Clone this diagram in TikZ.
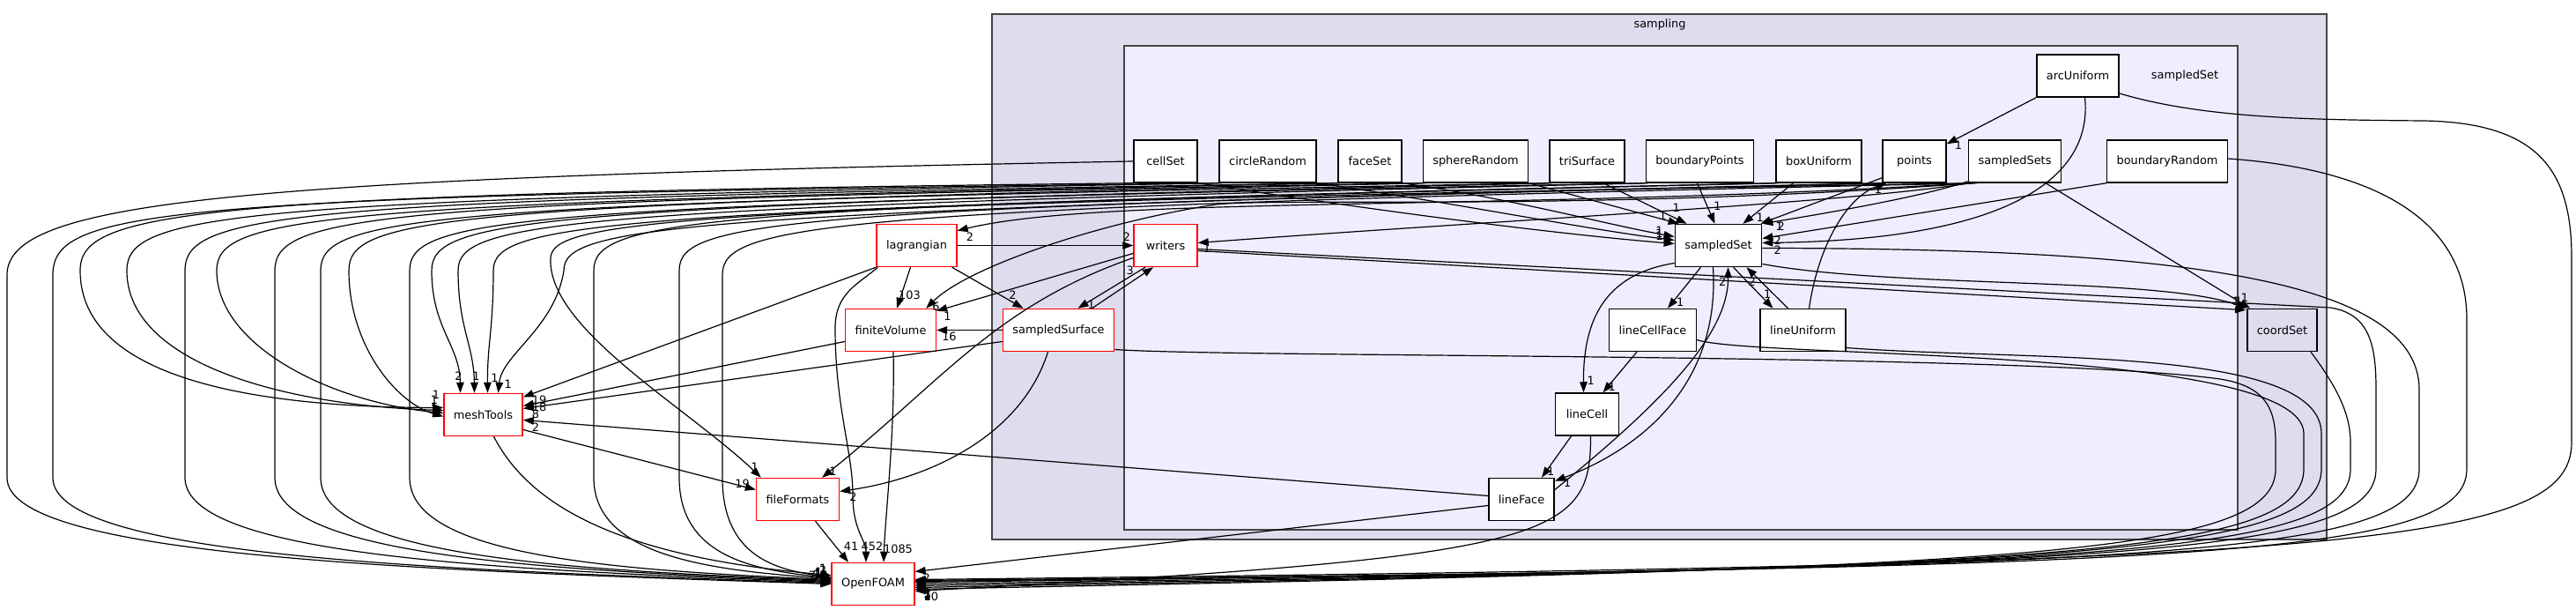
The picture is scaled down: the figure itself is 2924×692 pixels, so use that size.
\documentclass[tikz,border=0pt]{standalone}
\usepackage{fontspec}
\setmainfont{DejaVu Sans}
\usetikzlibrary{arrows.meta}
\definecolor{samplingfill}{HTML}{DDDDEE}
\definecolor{setfill}{HTML}{EEEEFF}
\definecolor{clusterline}{HTML}{444444}
\tikzset{
    % Directory boxes
    dirbox/.style={draw=black,fill=white,line width=1.5pt,minimum width=72pt,minimum height=48pt,inner xsep=11pt,inner ysep=0pt},
    extdir/.style={dirbox,draw=red},
    subdir/.style={dirbox,fill=samplingfill},
    %
    % Clusters
    cluster/.style={draw=clusterline,line width=1.5pt},
    %
    % Dependencies
    dep tip/.tip={Triangle[length=12pt,width=8.5pt]},
    dep/.style={line width=1.2pt,-{dep tip}},
    num/.style={inner sep=0.5pt}
}

\begin{document}
\begin{tikzpicture}[x=1pt,y=1pt,font=\fontsize{12.9}{15}\selectfont]
    \useasboundingbox (0,0) rectangle (2924,692);
    \fill[white] (0,0) rectangle (2924,692);
    % clusters
    \draw[cluster,fill=samplingfill] (1126,80) rectangle (2641,676);
    \draw[cluster,fill=setfill] (1276,91) rectangle (2540,640);
    \node (samplingTitle) at (1884,664) {sampling};
    \node (setTitle) at (2480,606) {sampledSet};
    % sampledSet subdirectories
    \node[dirbox] (cellSet) at (1323,509) {cellSet};
    \node[dirbox] (circleRandom) at (1439,509) {circleRandom};
    \node[dirbox] (faceSet) at (1555,509) {faceSet};
    \node[dirbox] (sphereRandom) at (1675,509) {sphereRandom};
    \node[dirbox] (triSurface) at (1801.5,509) {triSurface};
    \node[dirbox] (boundaryPoints) at (1929.5,509) {boundaryPoints};
    \node[dirbox] (boxUniform) at (2064.5,509) {boxUniform};
    \node[dirbox] (points) at (2173,509) {points};
    \node[dirbox] (sampledSets) at (2287,509) {sampledSets};
    \node[dirbox] (boundaryRandom) at (2460,509) {boundaryRandom};
    \node[dirbox] (arcUniform) at (2358.5,606) {arcUniform};
    \node[extdir] (writers) at (1323,413.5) {writers};
    \node[dirbox] (sampledSet) at (1950.5,413.5) {sampledSet};
    \node[dirbox] (lineCellFace) at (1876,317.5) {lineCellFace};
    \node[dirbox] (lineUniform) at (2046.5,317.5) {lineUniform};
    \node[dirbox] (lineCell) at (1801.5,222) {lineCell};
    \node[dirbox] (lineFace) at (1727,125.5) {lineFace};
    % rest of sampling
    \node[extdir] (sampledSurface) at (1201.5,317.5) {sampledSurface};
    \node[subdir] (coordSet) at (2590.5,317.5) {coordSet};
    % outside directories
    \node[extdir] (lagrangian) at (1040.5,413.5) {lagrangian};
    \node[extdir] (finiteVolume) at (1011,317.5) {finiteVolume};
    \node[extdir] (meshTools) at (548.5,221.5) {meshTools};
    \node[extdir] (fileFormats) at (905.5,125.5) {fileFormats};
    \node[extdir] (OpenFOAM) at (991,29.5) {OpenFOAM};

    % top row into sampledSet
    \draw[dep] (cellSet.south east) .. controls (1550,455) and (1750,428) .. ([yshift=2pt]sampledSet.west) node[num,at end,anchor=east,xshift=-12pt,yshift=9pt]{1};
    \draw[dep] (circleRandom.south east) .. controls (1650,462) and (1800,432) .. ([yshift=6pt]sampledSet.west) node[num,at end,anchor=east,xshift=-12pt,yshift=8pt]{1};
    \draw[dep] (faceSet.south east) .. controls (1720,466) and (1820,438) .. ([yshift=10pt]sampledSet.west) node[num,at end,anchor=east,xshift=-12pt,yshift=7pt]{1};
    \draw[dep] (sphereRandom.south east) -- ([xshift=5pt]sampledSet.north west) node[num,at end,anchor=east,xshift=-13pt,yshift=9pt]{1};
    \draw[dep] ([xshift=-25pt]triSurface.south east) -- ([xshift=14pt]sampledSet.north west) node[num,at end,anchor=south,xshift=-12pt,yshift=12pt]{1};
    \draw[dep] ([xshift=-3pt]boundaryPoints.south) -- ([xshift=-4pt]sampledSet.north) node[num,at end,anchor=south,xshift=3pt,yshift=14pt]{1};
    \draw[dep] ([xshift=20pt]boxUniform.south west) -- ([xshift=-22pt]sampledSet.north east) node[num,at end,anchor=west,xshift=14pt,yshift=7pt]{1};
    \draw[dep] ([yshift=6pt]points.south west) -- ([xshift=-2pt]sampledSet.north east) node[num,at end,anchor=west,xshift=16pt,yshift=-3pt]{1};
    \draw[dep] ([yshift=2pt]sampledSets.south west) .. controls (2180,468) and (2060,448) .. (sampledSet.north east) node[num,at end,anchor=west,xshift=16pt,yshift=-3pt]{2};
    \draw[dep] (boundaryRandom.south west) -- ([yshift=8pt]sampledSet.east) node[num,at end,anchor=west,xshift=12pt,yshift=-2pt]{2};
    \draw[dep] ([xshift=8pt]arcUniform.south) .. controls (2375,500) and (2300,420) .. ([yshift=3pt]sampledSet.east) node[num,at end,anchor=west,xshift=12pt,yshift=-8pt]{2};

    % lower part of sampledSet
    \draw[dep] ([xshift=-20pt]sampledSet.south) -- ([xshift=17pt]lineCellFace.north) node[num,at end,anchor=south west,xshift=9pt,yshift=1pt]{1};
    \draw[dep] ([xshift=17pt]sampledSet.south) -- ([xshift=-34pt]lineUniform.north) node[num,at end,anchor=south east,xshift=-1pt,yshift=10pt]{1};
    \draw[dep] ([xshift=-17pt]lineUniform.north) -- ([xshift=32pt]sampledSet.south) node[num,at end,anchor=north west,xshift=1pt,yshift=-11pt]{2};
    \draw[dep] ([yshift=11pt]lineFace.east) .. controls (1880,230) and (1962,310) .. ([xshift=11pt]sampledSet.south) node[num,at end,anchor=north east,xshift=-1pt,yshift=-11pt]{2};
    \draw[dep] ([xshift=-6pt]sampledSet.south) .. controls (1952,270) and (1880,190) .. ([yshift=-4pt]lineFace.north east) node[num,at end,anchor=west,xshift=9pt,yshift=-2pt]{1};
    \draw[dep] ([yshift=-20pt]sampledSet.west) .. controls (1815,380) and (1797,320) .. ([xshift=-4pt]lineCell.north) node[num,at end,anchor=south west,xshift=3pt,yshift=8pt]{1};
    \draw[dep] ([xshift=-18pt]lineCellFace.south) -- ([xshift=18pt]lineCell.north) node[num,at end,anchor=south west,xshift=5pt,yshift=1pt]{1};
    \draw[dep] ([xshift=-18pt]lineCell.south) -- ([xshift=23pt]lineFace.north) node[num,at end,anchor=south west,xshift=5pt,yshift=1pt]{1};
    \draw[dep] ([xshift=7pt]lineUniform.north) .. controls (2065,420) and (2100,470) .. ([xshift=5pt]points.south west) node[num,at end,anchor=north east,xshift=-4pt,yshift=-1pt]{1};
    \draw[dep] (arcUniform.south west) -- ([yshift=-5pt]points.north east) node[num,at end,anchor=west,xshift=8pt,yshift=-2pt]{1};

    % into coordSet
    \draw[dep] ([xshift=35pt]sampledSets.south) -- ([xshift=4pt]coordSet.north west) node[num,at end,anchor=south east,xshift=-1pt,yshift=6pt]{1};
    \draw[dep] ([yshift=-21pt]sampledSet.east) .. controls (2150,365) and (2450,378) .. (coordSet.north west) node[num,at end,anchor=south east,xshift=-4pt,yshift=2pt]{1};
    \draw[dep] ([yshift=-6pt]writers.east) -- ([xshift=-1pt,yshift=-2pt]coordSet.north west) node[num,at end,anchor=south east,xshift=-6pt,yshift=4pt]{1};

    % writers, sampledSurface and lagrangian
    \draw[dep] (lagrangian.east) -- (writers.west) node[num,at end,anchor=south east,xshift=-2pt,yshift=4pt]{2};
    \draw[dep] ([xshift=-6pt]lagrangian.south east) -- ([xshift=-40pt]sampledSurface.north) node[num,at end,anchor=south,xshift=-12pt,yshift=9pt]{2};
    \draw[dep] ([xshift=-7pt]lagrangian.south) -- ([xshift=7pt]finiteVolume.north) node[num,at end,anchor=south west,xshift=1pt,yshift=9pt]{103};
    \draw[dep] (lagrangian.south west) -- ([yshift=20pt]meshTools.east) node[num,at end,anchor=west,xshift=9pt,yshift=-3pt]{19};
    \draw[dep] ([xshift=2pt]lagrangian.south west) .. controls (975,370) and (948,360) .. (948,320) .. controls (948,230) and (968,180) .. (968,130) .. controls (968,90) and (983,80) .. ([xshift=-8pt]OpenFOAM.north) node[num,at end,anchor=south,xshift=7pt,yshift=12pt]{452};
    \draw[dep] ([xshift=-23pt]writers.south) -- ([xshift=22pt]sampledSurface.north) node[num,at end,anchor=south west,xshift=10pt,yshift=-2pt]{1};
    \draw[dep] ([xshift=38pt]sampledSurface.north) -- ([xshift=-14pt]writers.south) node[num,at end,anchor=east,xshift=-21pt,yshift=-4pt]{3};
    \draw[dep] ([yshift=-9pt]writers.west) -- ([yshift=-3pt]finiteVolume.north east) node[num,at end,anchor=north west,xshift=7pt]{1};
    \draw[dep] ([yshift=-14pt]writers.west) .. controls (1130,345) and (1070,260) .. ([xshift=-20pt]fileFormats.north east) node[num,at end,anchor=south west,xshift=7pt,yshift=1pt]{1};
    \draw[dep] (sampledSurface.west) -- (finiteVolume.east) node[num,at end,anchor=north west,xshift=5pt,yshift=-1pt]{16};
    \draw[dep] ([yshift=-13pt]sampledSurface.west) -- ([yshift=7pt]meshTools.east) node[num,at end,anchor=west,xshift=9pt,yshift=-6pt]{8};
    \draw[dep] ([xshift=-12pt]sampledSurface.south) .. controls (1160,200) and (1060,150) .. ([yshift=9pt]fileFormats.east) node[num,at end,anchor=north west,xshift=10pt]{2};
    \draw[dep] ([yshift=-13pt]finiteVolume.west) -- ([yshift=10pt]meshTools.east) node[num,at end,anchor=west,xshift=9pt,yshift=-1pt]{18};
    \draw[dep] ([xshift=3pt]finiteVolume.south) .. controls (1016,200) and (1005,110) .. ([xshift=12pt]OpenFOAM.north) node[num,at end,anchor=south west,xshift=-1pt,yshift=9pt]{1085};
    \draw[dep] ([yshift=-17pt]meshTools.east) -- ([yshift=11pt]fileFormats.west) node[num,at end,anchor=south east,xshift=-6pt,yshift=1pt]{19};
    \draw[dep] ([xshift=12pt]meshTools.south) .. controls (600,120) and (700,60) .. ([yshift=10pt]OpenFOAM.west) node[num,at end,anchor=south east,xshift=-4pt,yshift=2pt]{1};
    \draw[dep] ([xshift=20pt]fileFormats.south) -- ([xshift=-28pt]OpenFOAM.north) node[num,at end,anchor=south,xshift=3pt,yshift=12pt]{41};
    \draw[dep] ([yshift=4pt]lineFace.west) -- ([yshift=-6pt]meshTools.east) node[num,at end,anchor=north west,xshift=9pt,yshift=-2pt]{2};

    % sampledSets towards the left
    \draw[dep] ([xshift=2pt]sampledSets.south west) .. controls (2100,462) and (1700,442) .. ([yshift=3pt]writers.east) node[num,at end,anchor=north west,xshift=5pt,yshift=-1pt]{1};
    \draw[dep] ([xshift=4pt]sampledSets.south west) .. controls (1700,452) and (1250,470) .. ([yshift=-8pt]lagrangian.north east) node[num,at end,anchor=north west,xshift=9pt,yshift=-1pt]{2};
    \draw[dep] ([xshift=6pt]sampledSets.south west) .. controls (1800,452) and (1450,468) .. (1380,460) .. controls (1250,440) and (1100,390) .. ([xshift=-12pt]finiteVolume.north east) node[num,at end,anchor=south west,xshift=6pt,yshift=-4pt]{6};
    \draw[dep] ([xshift=8pt]sampledSets.south west) .. controls (740,460) and (630,440) .. (625,400) .. controls (620,320) and (780,230) .. ([xshift=6pt]fileFormats.north west) node[num,at end,anchor=south east,xshift=-2pt,yshift=6pt]{1};
    \draw[dep] ([xshift=10pt]sampledSets.south west) .. controls (930,456) and (820,438) .. (820,380) -- (820,150) .. controls (820,60) and (882,45) .. ([yshift=8pt]OpenFOAM.west) node[num,at end,anchor=south east,xshift=-4pt,yshift=2pt]{2};

    % top row towards OpenFOAM
    \draw[dep] (cellSet.west) .. controls (250,490) and (8,462) .. (8,380) -- (8,150) .. controls (8,60) and (476,45) .. (OpenFOAM.west) node[num,at end,anchor=south east,xshift=-16pt,yshift=4pt]{7};
    \draw[dep] (circleRandom.south west) .. controls (180,470) and (60,455) .. (60,380) -- (60,150) .. controls (60,60) and (502,45) .. ([yshift=1pt]OpenFOAM.west) node[num,at end,anchor=south east,xshift=-9pt,yshift=4pt]{1};
    \draw[dep] (faceSet.south west) .. controls (330,466) and (210,452) .. (210,385) -- (210,150) .. controls (210,60) and (577,45) .. ([yshift=2pt]OpenFOAM.west) node[num,at end,anchor=south east,xshift=-3pt,yshift=3pt]{10};
    \draw[dep] (sphereRandom.south west) .. controls (430,464) and (312,450) .. (312,385) -- (312,150) .. controls (312,60) and (628,45) .. ([yshift=3pt]OpenFOAM.west) node[num,at end,anchor=south east,xshift=-9pt,yshift=3pt]{1};
    \draw[dep] (triSurface.south west) .. controls (480,462) and (364,448) .. (364,385) -- (364,150) .. controls (364,60) and (654,45) .. ([yshift=4pt]OpenFOAM.west) node[num,at end,anchor=south east,xshift=-9pt,yshift=2pt]{1};
    \draw[dep] (boundaryPoints.south west) .. controls (580,460) and (465,446) .. (465,385) -- (465,150) .. controls (465,60) and (704,45) .. ([yshift=5pt]OpenFOAM.west) node[num,at end,anchor=south east,xshift=-9pt,yshift=1pt]{1};
    \draw[dep] (boxUniform.south west) .. controls (790,458) and (674,444) .. (674,385) -- (674,150) .. controls (674,60) and (809,45) .. ([yshift=6pt]OpenFOAM.west) node[num,at end,anchor=south east,xshift=-9pt,yshift=1pt]{1};
    \draw[dep] (points.south west) .. controls (880,456) and (771,442) .. (771,385) -- (771,150) .. controls (771,60) and (857,45) .. ([yshift=7pt]OpenFOAM.west) node[num,at end,anchor=south east,xshift=-9pt,yshift=1pt]{1};

    % top row towards meshTools
    \draw[dep] (cellSet.south west) .. controls (210,472) and (91,452) .. (91,385) .. controls (91,260) and (297,230) .. ([yshift=8pt]meshTools.west) node[num,at end,anchor=south east,xshift=-3pt,yshift=9pt]{1};
    \draw[dep] ([xshift=3pt]circleRandom.south west) .. controls (260,466) and (144,450) .. (144,385) .. controls (144,280) and (323,232) .. ([yshift=5pt]meshTools.west) node[num,at end,anchor=south east,xshift=-5pt,yshift=6pt]{1};
    \draw[dep] ([xshift=3pt]faceSet.south west) .. controls (360,462) and (246,448) .. (246,385) .. controls (246,300) and (375,236) .. ([yshift=2pt]meshTools.west) node[num,at end,anchor=south east,xshift=-5pt,yshift=1pt]{1};
    \draw[dep] ([xshift=3pt]sphereRandom.south west) .. controls (500,460) and (396,446) .. (396,385) .. controls (396,300) and (450,235) .. ([yshift=-2pt]meshTools.west) node[num,at end,anchor=south east,xshift=-5pt,yshift=3pt]{1};
    \draw[dep] ([xshift=3pt]triSurface.south west) .. controls (600,458) and (490,444) .. (490,385) .. controls (490,320) and (522,300) .. ([xshift=-26pt]meshTools.north) node[num,at end,anchor=south,xshift=-2pt,yshift=13pt]{2};
    \draw[dep] ([xshift=3pt]boundaryPoints.south west) .. controls (640,456) and (520,442) .. (520,385) .. controls (520,320) and (538,300) .. ([xshift=-10pt]meshTools.north) node[num,at end,anchor=south,xshift=2pt,yshift=13pt]{1};
    \draw[dep] ([xshift=3pt]boxUniform.south west) .. controls (680,454) and (560,440) .. (560,385) .. controls (560,320) and (553,300) .. ([xshift=5pt]meshTools.north) node[num,at end,anchor=south,xshift=8pt,yshift=11pt]{1};
    \draw[dep] ([xshift=3pt]points.south west) .. controls (760,452) and (640,436) .. (640,385) .. controls (630,320) and (570,290) .. ([xshift=17pt]meshTools.north) node[num,at end,anchor=south west,xshift=6pt,yshift=4pt]{1};

    % round the right side into OpenFOAM
    \draw[dep] ([yshift=-22pt]sampledSurface.east) .. controls (1400,286) and (2300,292) .. (2520,262) .. controls (2570,254) and (2583,230) .. (2583,190) -- (2583,160) .. controls (2583,60) and (2283,48) .. ([yshift=-6pt]OpenFOAM.east) node[num,at end,anchor=north west,xshift=9pt,yshift=-2pt]{10};
    \draw[dep] ([yshift=-11pt]lineCellFace.east) .. controls (1990,285) and (2615,300) .. (2615,200) -- (2615,160) .. controls (2615,60) and (2315,48) .. ([yshift=-4pt]OpenFOAM.east) node[num,at end,anchor=north west,xshift=9pt,yshift=-3pt]{1};
    \draw[dep] ([yshift=-20pt]lineUniform.east) .. controls (2300,282) and (2635,300) .. (2635,200) -- (2635,160) .. controls (2635,60) and (2335,48) .. ([yshift=-2pt]OpenFOAM.east) node[num,at end,anchor=north west,xshift=9pt,yshift=-4pt]{1};
    \draw[dep] ([xshift=-8pt]coordSet.south east) .. controls (2655,250) and (2668,220) .. (2668,190) -- (2668,160) .. controls (2668,60) and (2368,48) .. (OpenFOAM.east) node[num,at end,anchor=north west,xshift=9pt,yshift=-5pt]{3};
    \draw[dep] ([yshift=-4pt]writers.east) -- (2645,343) .. controls (2690,336) and (2697,300) .. (2697,250) -- (2697,160) .. controls (2697,60) and (2397,48) .. ([yshift=2pt]OpenFOAM.east) node[num,at end,anchor=north west,xshift=9pt,yshift=-7pt]{1};
    \draw[dep] ([yshift=-3pt]sampledSet.east) .. controls (2450,410) and (2746,380) .. (2746,250) -- (2746,160) .. controls (2746,60) and (2446,48) .. ([yshift=3pt]OpenFOAM.east) node[num,at end,anchor=north west,xshift=9pt,yshift=-8pt]{1};
    \draw[dep] ([yshift=3pt]boundaryRandom.east) .. controls (2700,500) and (2800,440) .. (2800,330) -- (2800,160) .. controls (2800,60) and (2500,48) .. ([yshift=4pt]OpenFOAM.east) node[num,at end,anchor=north west,xshift=9pt,yshift=-9pt]{1};
    \draw[dep] ([yshift=-20pt]arcUniform.east) .. controls (2500,558) and (2620,556) .. (2750,555) .. controls (2880,553) and (2919,500) .. (2919,400) -- (2919,190) .. controls (2919,70) and (2650,52) .. ([yshift=5pt]OpenFOAM.east) node[num,at end,anchor=north west,xshift=9pt,yshift=-10pt]{1};
    \draw[dep] ([xshift=4pt]lineCell.south) .. controls (1806,80) and (1760,60) .. ([yshift=-8pt]OpenFOAM.east) node[num,at end,anchor=north west,xshift=9pt]{1};
    \draw[dep] ([yshift=-7pt]lineFace.west) -- ([yshift=14pt]OpenFOAM.east) node[num,at end,anchor=north west,xshift=8pt,yshift=-1pt]{2};
\end{tikzpicture}
\end{document}
